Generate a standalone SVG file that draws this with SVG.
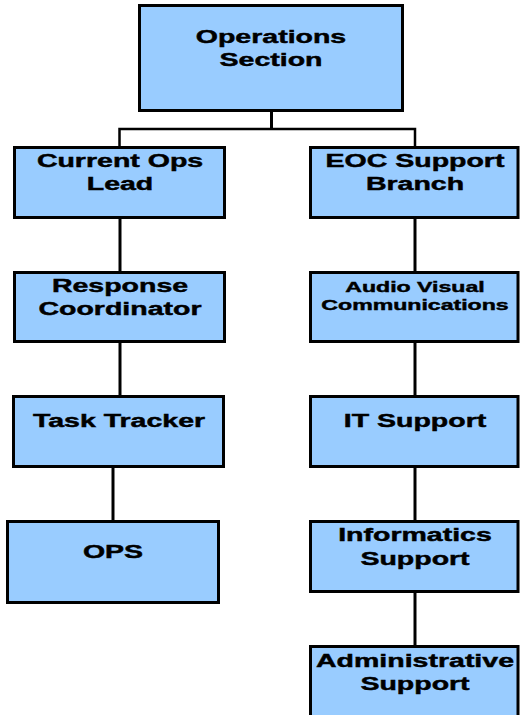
<svg xmlns="http://www.w3.org/2000/svg" width="520" height="715" viewBox="0 0 520 715">
  <style>
    .box { fill: #99CCFF; stroke: #000; stroke-width: 3; }
    .lbl { font-family: "Liberation Sans", Arial, sans-serif; font-weight: bold; font-size: 19px; fill: #000; stroke: #000; stroke-width: 0.45; text-anchor: middle; }
    .sm { font-size: 15.4px; }
    .wire { fill: none; stroke: #000; stroke-width: 3; }
    .bar { fill: none; stroke: #000; stroke-width: 2.5; }
  </style>
  <rect width="520" height="715" fill="#fff"/>

  <!-- connectors -->
  <g id="connectors">
    <line class="wire" x1="271.5" y1="111" x2="271.5" y2="129"/>
    <polyline class="bar" points="119.5,148 119.5,129 415,129 415,148"/>
    <line class="wire" x1="120" y1="218" x2="120" y2="272"/>
    <line class="wire" x1="120" y1="342" x2="120" y2="396"/>
    <line class="wire" x1="113" y1="467" x2="113" y2="521"/>
    <line class="wire" x1="415" y1="218" x2="415" y2="272"/>
    <line class="wire" x1="415" y1="342" x2="415" y2="396"/>
    <line class="wire" x1="415" y1="467" x2="415" y2="521"/>
    <line class="wire" x1="415" y1="592" x2="415" y2="646"/>
  </g>

  <g id="operations-section">
    <rect class="box" x="139.5" y="5.5" width="263" height="105"/>
    <g transform="translate(271,0) scale(1.5,1)">
      <text class="lbl" x="0" y="43">Operations</text>
      <text class="lbl" x="0" y="66">Section</text>
    </g>
  </g>

  <g id="current-ops-lead">
    <rect class="box" x="14.5" y="147.5" width="210" height="70"/>
    <g transform="translate(120,0) scale(1.5,1)">
      <text class="lbl" x="0" y="167">Current Ops</text>
      <text class="lbl" x="0" y="190">Lead</text>
    </g>
  </g>

  <g id="eoc-support-branch">
    <rect class="box" x="310.5" y="147.5" width="207.5" height="70"/>
    <g transform="translate(415,0) scale(1.5,1)">
      <text class="lbl" x="0" y="167">EOC Support</text>
      <text class="lbl" x="0" y="190">Branch</text>
    </g>
  </g>

  <g id="response-coordinator">
    <rect class="box" x="14.5" y="272.5" width="210" height="69"/>
    <g transform="translate(120,0) scale(1.5,1)">
      <text class="lbl" x="0" y="292">Response</text>
      <text class="lbl" x="0" y="315">Coordinator</text>
    </g>
  </g>

  <g id="audio-visual-communications">
    <rect class="box" x="310.5" y="272.5" width="207.5" height="69"/>
    <g transform="translate(415,0) scale(1.5,1)">
      <text class="lbl sm" x="0" y="292">Audio Visual</text>
      <text class="lbl sm" x="0" y="310">Communications</text>
    </g>
  </g>

  <g id="task-tracker">
    <rect class="box" x="13.5" y="396.5" width="210" height="70"/>
    <g transform="translate(119,0) scale(1.5,1)">
      <text class="lbl" x="0" y="427">Task Tracker</text>
    </g>
  </g>

  <g id="it-support">
    <rect class="box" x="310.5" y="396.5" width="207.5" height="70"/>
    <g transform="translate(415,0) scale(1.5,1)">
      <text class="lbl" x="0" y="427">IT Support</text>
    </g>
  </g>

  <g id="ops">
    <rect class="box" x="7.5" y="521.5" width="211" height="81"/>
    <g transform="translate(113,0) scale(1.5,1)">
      <text class="lbl" x="0" y="558">OPS</text>
    </g>
  </g>

  <g id="informatics-support">
    <rect class="box" x="310.5" y="521.5" width="207.5" height="70"/>
    <g transform="translate(415,0) scale(1.5,1)">
      <text class="lbl" x="0" y="541">Informatics</text>
      <text class="lbl" x="0" y="565">Support</text>
    </g>
  </g>

  <g id="administrative-support">
    <rect class="box" x="310.5" y="646.5" width="207.5" height="80"/>
    <g transform="translate(415,0) scale(1.5,1)">
      <text class="lbl" x="0" y="667">Administrative</text>
      <text class="lbl" x="0" y="690">Support</text>
    </g>
  </g>
</svg>
